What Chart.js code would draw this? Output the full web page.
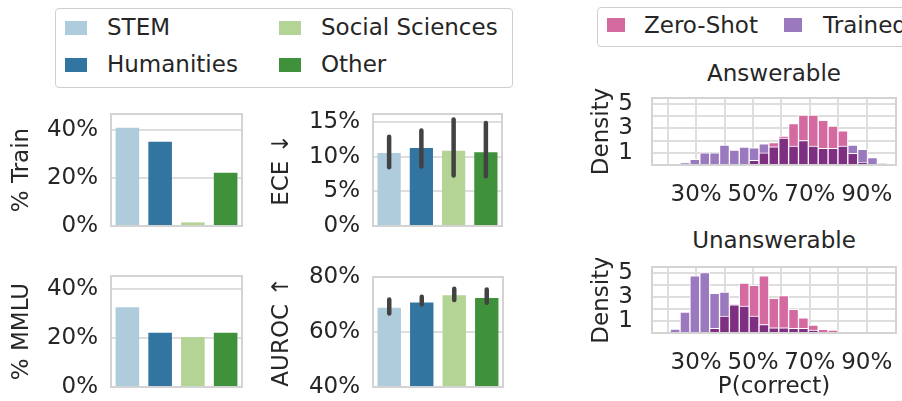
<!DOCTYPE html>
<html>
<head>
<meta charset="utf-8">
<script src="https://cdn.jsdelivr.net/npm/chart.js@4"></script>
<style>
  body { margin: 0; width: 902px; height: 401px; overflow: hidden; background: #fff;
         font-family: 'DejaVu Sans', sans-serif; color: #262626; position: relative; }
  .box { position: absolute; border: 1px solid #cfcfcf; border-radius: 4px; background: #fff; }
  .sw { position: absolute; }
  .txt { position: absolute; font-size: 23px; line-height: 28px; white-space: nowrap; }
  .ttl { position: absolute; font-size: 23px; line-height: 28px; white-space: nowrap; transform: translateX(-50%); }
</style>
</head>
<body>
<div class="box" style="left:55px;top:8px;width:456px;height:78px"></div>
<div class="box" style="left:597px;top:7px;width:330px;height:38px"></div>
<div id="legends"></div>
<div class="ttl" style="left:774px;top:59px">Answerable</div>
<div class="ttl" style="left:774px;top:226px">Unanswerable</div>
<script>
// categories and values
const subjects = ['STEM', 'Humanities', 'Social Sciences', 'Other'];
const trainShare = [41, 35.1, 1.5, 22.2];
const mmluShare = [32.6, 22.2, 20.5, 22.2];
const eceMean = [10.55, 11.3, 10.9, 10.65];
const eceLow = [8.5, 8.6, 7.3, 7.2];
const eceHigh = [12.9, 13.8, 15.4, 14.9];
const aurocMean = [68.8, 70.7, 73.4, 72.4];
const aurocLow = [66.7, 70.0, 71.6, 70.6];
const aurocHigh = [71.8, 72.8, 75.7, 75.5];
const shareTicks = [0, 20, 40];
const eceTicks = [0, 5, 10, 15];
const aurocTicks = [40, 60, 80];

// histogram bins (P(correct) in %), density per bin
const binCenters = [22.63, 26.10, 29.57, 33.04, 36.51, 39.98, 43.45, 46.92, 50.39, 53.86, 57.33,
                    60.80, 64.27, 67.74, 71.21, 74.68, 78.15, 81.62, 85.09, 88.56, 92.03, 95.50];
const answerableZeroShot = [0, 0, 0, 0, 0, 0, 0, 0.05, 0.38, 1.0, 1.84,
                            2.38, 3.4, 4.1, 4.1, 3.67, 3.2, 2.8, 0.96, 0.2, 0, 0];
const answerableTrained = [0, 0.16, 0.47, 1.0, 1.0, 1.64, 1.23, 1.48, 1.4, 1.73, 1.5,
                           2.2, 1.56, 2.0, 1.56, 1.37, 1.37, 1.56, 1.64, 1.29, 0.6, 0.1];
const unanswerableZeroShot = [0, 0, 0, 0, 0.38, 1.4, 2.35, 4.16, 3.97, 4.77, 2.88,
                              3.12, 1.97, 1.26, 0.66, 0.3, 0.25, 0, 0, 0, 0, 0];
const unanswerableTrained = [0.33, 1.75, 4.77, 5.04, 3.3, 3.4, 2.4, 2.25, 1.4, 0.71, 0.44,
                             0.44, 0.38, 0.38, 0.25, 0.05, 0, 0, 0, 0, 0, 0];
const densityTicks = [0, 1, 2, 3, 4, 5];
const densityLabels = [1, 3, 5];
const probTicks = [20, 30, 40, 50, 60, 70, 80, 90];
const probLabels = [30, 50, 70, 90];

const subjectColors = ['#aeccdb', '#3275a1', '#b3d495', '#40913b'];
const zeroShotColor = '#d46a9f';
const trainedColor = '#9b79bf';
const overlapColor = '#7f2f82';
const gridColor = '#dedede';

Chart.defaults.font.family = "'DejaVu Sans', sans-serif";
Chart.defaults.font.size = 23;
Chart.defaults.color = '#262626';
Chart.defaults.plugins.legend.display = false;
Chart.defaults.plugins.tooltip.enabled = false;

// legends as plain html
const legendItems = [
  [subjects[0], subjectColors[0], 65, 21, 22, 107, 13],
  [subjects[1], subjectColors[1], 65, 58, 22, 107, 50],
  [subjects[2], subjectColors[2], 279, 21, 22, 321, 13],
  [subjects[3], subjectColors[3], 279, 58, 22, 321, 50],
  ['Zero-Shot', zeroShotColor, 607, 18, 18, 644, 11],
  ['Trained', trainedColor, 784, 18, 18, 823, 11]
];
const leg = document.getElementById('legends');
legendItems.forEach(([label, color, sx, sy, sw, tx, ty]) => {
  leg.insertAdjacentHTML('beforeend',
    `<div class="sw" style="left:${sx}px;top:${sy}px;width:${sw}px;height:14px;background:${color}"></div>` +
    `<div class="txt" style="left:${tx}px;top:${ty}px">${label}</div>`);
});

const framePlugin = {
  id: 'frame',
  afterDatasetsDraw(chart) {
    const a = chart.chartArea, ctx = chart.ctx;
    ctx.save();
    ctx.strokeStyle = '#d3d3d3';
    ctx.lineWidth = 2;
    ctx.strokeRect(a.left, a.top, a.right - a.left, a.bottom - a.top);
    ctx.restore();
  }
};

function errorBarPlugin(low, high) {
  return {
    id: 'errorBars',
    afterDatasetsDraw(chart) {
      const meta = chart.getDatasetMeta(0), y = chart.scales.y, ctx = chart.ctx;
      ctx.save();
      ctx.strokeStyle = '#424242';
      ctx.lineWidth = 4.5;
      ctx.lineCap = 'round';
      meta.data.forEach((bar, i) => {
        ctx.beginPath();
        ctx.moveTo(bar.x, y.getPixelForValue(low[i]));
        ctx.lineTo(bar.x, y.getPixelForValue(high[i]));
        ctx.stroke();
      });
      ctx.restore();
    }
  };
}

function addCanvas(box) {
  const c = document.createElement('canvas');
  c.width = box.w;
  c.height = box.h;
  c.style.cssText = `position:absolute;left:${box.l}px;top:${box.t}px;width:${box.w}px;height:${box.h}px`;
  document.body.appendChild(c);
  return c;
}

// pin an axis to a fixed size and drop the label overhang padding
function pin(prop, size) {
  return s => {
    s[prop] = size;
    s.paddingTop = 0; s.paddingBottom = 0; s.paddingLeft = 0; s.paddingRight = 0;
  };
}

function barPanel(box, frame, values, range, ticks, title, low, high) {
  const plugins = [framePlugin];
  if (low) plugins.push(errorBarPlugin(low, high));
  new Chart(addCanvas(box), {
    type: 'bar',
    data: {
      labels: subjects,
      datasets: [{ data: values, backgroundColor: subjectColors, barPercentage: 0.72, categoryPercentage: 1 }]
    },
    options: {
      responsive: false,
      animation: false,
      devicePixelRatio: 1,
      layout: { padding: { left: 0, top: frame.t - box.t, right: box.l + box.w - frame.r, bottom: box.t + box.h - frame.b } },
      scales: {
        x: { display: false },
        y: {
          min: range[0], max: range[1],
          afterBuildTicks: s => { s.ticks = ticks.map(v => ({ value: v })); },
          afterFit: pin('width', frame.l - box.l),
          border: { display: false },
          grid: { color: gridColor, lineWidth: 2, drawTicks: false },
          ticks: { padding: 13, callback: v => v + '%' },
          title: { display: true, text: title, padding: { top: 8, bottom: 0 } }
        }
      }
    },
    plugins
  });
}

function histPanel(box, frame, zeroShot, trained, xTitle) {
  const overlap = zeroShot.map((v, i) => Math.min(v, trained[i]));
  // lower order is drawn last, so the shared part sits on top
  const ds = (vals, color, order) => ({
    data: binCenters.map((x, i) => ({ x: x, y: vals[i] })),
    backgroundColor: color, borderColor: '#ffffff', borderWidth: 1, order: order,
    grouped: false, barPercentage: 1, categoryPercentage: 1
  });
  new Chart(addCanvas(box), {
    type: 'bar',
    data: { datasets: [ds(zeroShot, zeroShotColor, 3), ds(trained, trainedColor, 2), ds(overlap, overlapColor, 1)] },
    options: {
      responsive: false,
      animation: false,
      devicePixelRatio: 1,
      layout: { padding: { left: 0, top: frame.t - box.t, right: box.l + box.w - frame.r, bottom: 0 } },
      scales: {
        x: {
          type: 'linear', min: 14.5, max: 100.3, offset: false,
          afterBuildTicks: s => { s.ticks = probTicks.map(v => ({ value: v })); },
          afterFit: pin('height', box.t + box.h - frame.b),
          border: { display: false },
          grid: { color: gridColor, lineWidth: 2, drawTicks: false, offset: false },
          ticks: { padding: 16, autoSkip: false, maxRotation: 0, callback: v => probLabels.includes(v) ? v + '%' : '' },
          title: { display: !!xTitle, text: xTitle || '', padding: { top: 0, bottom: 0 } }
        },
        y: {
          min: 0, max: 5.5,
          afterBuildTicks: s => { s.ticks = densityTicks.map(v => ({ value: v })); },
          afterFit: pin('width', frame.l - box.l),
          border: { display: false },
          grid: { color: gridColor, lineWidth: 2, drawTicks: false },
          ticks: { padding: 19, autoSkip: false, callback: v => densityLabels.includes(v) ? String(v) : '' },
          title: { display: true, text: 'Density', padding: { top: 3, bottom: 0 } }
        }
      }
    },
    plugins: [framePlugin]
  });
}

barPanel({ l: 0, t: 95, w: 260, h: 140 }, { l: 111, t: 114, r: 242, b: 226 },
  trainShare, [0, 46.7], shareTicks, '% Train');
barPanel({ l: 260, t: 95, w: 260, h: 140 }, { l: 373, t: 114, r: 502, b: 226 },
  eceMean, [0, 16.2], eceTicks, 'ECE \u2193', eceLow, eceHigh);
barPanel({ l: 0, t: 255, w: 260, h: 146 }, { l: 111, t: 276, r: 242, b: 387 },
  mmluShare, [0, 45.4], shareTicks, '% MMLU');
barPanel({ l: 260, t: 255, w: 260, h: 146 }, { l: 373, t: 277, r: 503, b: 387 },
  aurocMean, [40, 80], aurocTicks, 'AUROC \u2191', aurocLow, aurocHigh);

histPanel({ l: 585, t: 88, w: 317, h: 122 }, { l: 652, t: 98, r: 896, b: 165 },
  answerableZeroShot, answerableTrained, null);
histPanel({ l: 585, t: 258, w: 317, h: 143 }, { l: 652, t: 267, r: 896, b: 333 },
  unanswerableZeroShot, unanswerableTrained, 'P(correct)');
</script>
</body>
</html>
